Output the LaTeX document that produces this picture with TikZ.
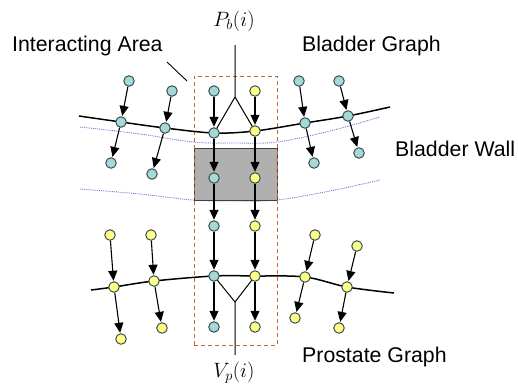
\documentclass[tikz,border=0pt]{standalone}
\usepackage{fontspec}
\setmainfont{Liberation Sans}
\usetikzlibrary{arrows.meta}
\definecolor{cy}{HTML}{A6D8D8}
\definecolor{yl}{HTML}{FFFF88}
\definecolor{nodeline}{HTML}{3A4F4F}
\definecolor{boxred}{HTML}{C8643C}
\definecolor{wallblue}{HTML}{7474D8}
\definecolor{grayfill}{HTML}{B0B0B0}
\tikzset{
  vtx/.style={circle, inner sep=0pt, minimum size=10.5pt, draw=nodeline, line width=1pt},
  cnode/.style={vtx, fill=cy},
  ynode/.style={vtx, fill=yl},
  arr/.style={-{Triangle[width=9pt,length=10pt]}, line width=1.1pt, shorten >=0.5pt},
  curve/.style={line width=1.5pt},
  wall/.style={wallblue, densely dotted, line width=0.9pt},
  lbl/.style={font=\fontsize{21.3}{25}\selectfont, anchor=base west, inner sep=0pt},
  mathlbl/.style={font=\fontsize{20}{24}\selectfont, inner sep=0pt}
}
\begin{document}
\begin{tikzpicture}[x=1pt,y=-1pt]
\useasboundingbox (0,0) rectangle (518,388);
% coordinates upper graph
\coordinate (bl0) at (79,116);
\coordinate (cB1) at (121,122);
\coordinate (cB2) at (165,128);
\coordinate (cB3) at (214,133);
\coordinate (cB4) at (255,131);
\coordinate (cB5) at (305,123);
\coordinate (cB6) at (348,116);
\coordinate (bl7) at (390,107);
% lower graph
\coordinate (pl0) at (91,290);
\coordinate (cL1) at (114,287);
\coordinate (cL2) at (154,281);
\coordinate (cL3) at (214,276);
\coordinate (cL4) at (255,276);
\coordinate (cL5) at (305,277);
\coordinate (cL6) at (347,287);
\coordinate (pl7) at (394,293);
% wall lines
\draw[wall] plot[smooth, tension=0.6] coordinates {(80,127) (140,134) (193,142) (235,143) (277,142) (330,131) (380,117)};
\draw[wall] plot[smooth, tension=0.6] coordinates {(80,189) (140,194) (193,200) (235,201) (277,200) (330,191) (380,180)};
% gray box and interacting area
\node[draw=black!75, fill=grayfill, line width=1pt, minimum width=83pt, minimum height=52pt, inner sep=0pt] (gbox) at (235.5,174) {};
\node[draw=boxred, dash pattern=on 4pt off 3pt, line width=1pt, minimum width=83pt, minimum height=269pt, inner sep=0pt] (iarea) at (235.5,210.5) {};
% curves
\draw[curve] plot[smooth, tension=0.55] coordinates {(bl0) (cB1) (cB2) (cB3) (cB4) (cB5) (cB6) (bl7)};
\draw[curve] plot[smooth, tension=0.55] coordinates {(pl0) (cL1) (cL2) (cL3) (cL4) (cL5) (cL6) (pl7)};
% labels
\node[lbl] (ia) at (12,51) {Interacting Area};
\node[lbl] (bg) at (302,51) {Bladder Graph};
\node[lbl] (bw) at (395,156) {Bladder Wall};
\node[lbl] (pg) at (302,362) {Prostate Graph};
\node[mathlbl] (pb) at (234,21) {$P_b(i)$};
\node[mathlbl] (vp) at (234,373) {$V_p(i)$};
\coordinate (iaend) at (167,62);
\coordinate (iatip) at (187,81);
\draw[line width=0.9pt] (iaend) -- (iatip);
\coordinate (pbtop) at (235,45);
\coordinate (pbapex) at (235,97);
\coordinate (vpbot) at (235,355);
\coordinate (vpapex) at (235,302);
\draw[line width=1pt] (pbtop) -- (pbapex) -- (cB3);
\draw[line width=1pt] (pbapex) -- (cB4);
\draw[line width=1pt] (vpbot) -- (vpapex) -- (cL3);
\draw[line width=1pt] (vpapex) -- (cL4);
% nodes upper graph
\node[cnode] (B1) at (cB1) {};
\node[cnode] (B2) at (cB2) {};
\node[cnode] (B3) at (cB3) {};
\node[ynode] (B4) at (cB4) {};
\node[cnode] (B5) at (cB5) {};
\node[cnode] (B6) at (cB6) {};
\node[cnode] (T1) at (129,81) {};
\node[cnode] (T2) at (172,91) {};
\node[cnode] (T3) at (214,91) {};
\node[ynode] (T4) at (255,91) {};
\node[cnode] (T5) at (299,81) {};
\node[cnode] (T6) at (339,81) {};
\node[cnode] (D1) at (111,163) {};
\node[cnode] (D2) at (152,174) {};
\node[cnode] (D5) at (314,163) {};
\node[cnode] (D6) at (359,153) {};
\node[cnode] (G3) at (214,178) {};
\node[ynode] (G4) at (255,178) {};
\node[cnode] (M3) at (214,226) {};
\node[ynode] (M4) at (255,226) {};
% lower graph
\node[ynode] (L1) at (cL1) {};
\node[ynode] (L2) at (cL2) {};
\node[cnode] (L3) at (cL3) {};
\node[ynode] (L4) at (cL4) {};
\node[ynode] (L5) at (cL5) {};
\node[ynode] (L6) at (cL6) {};
\node[ynode] (U1) at (110,235) {};
\node[ynode] (U2) at (151,235) {};
\node[ynode] (U5) at (315,235) {};
\node[ynode] (U6) at (357,246) {};
\node[ynode] (F1) at (121,339) {};
\node[ynode] (F2) at (162,328) {};
\node[ynode] (F5) at (295,318) {};
\node[ynode] (F6) at (339,328) {};
\node[cnode] (E3) at (214,327) {};
\node[ynode] (E4) at (255,327) {};
% arrows
\foreach \i in {1,2,5,6} {
  \draw[arr] (T\i) -- (B\i);
  \draw[arr] (B\i) -- (D\i);
  \draw[arr] (U\i) -- (L\i);
  \draw[arr] (L\i) -- (F\i);
}
\foreach \i in {3,4} {
  \draw[arr] (T\i) -- (B\i);
  \draw[arr] (B\i) -- (G\i);
  \draw[arr] (G\i) -- (M\i);
  \draw[arr] (M\i) -- (L\i);
  \draw[arr] (L\i) -- (E\i);
}
\end{tikzpicture}
\end{document}
